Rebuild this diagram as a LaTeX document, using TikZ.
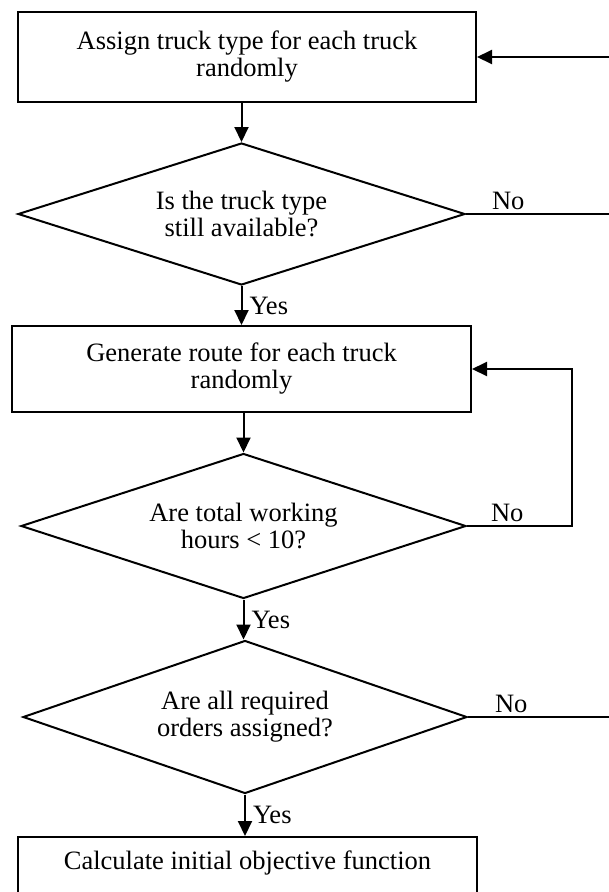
\documentclass[tikz,border=0pt]{standalone}
\usepackage{fontspec}
\setmainfont{Liberation Serif}
\usetikzlibrary{shapes.geometric,arrows.meta}

\begin{document}
\begin{tikzpicture}[x=1pt,y=-1pt,line width=2pt,font=\fontsize{26.5}{27}\selectfont,
	block/.style={draw,rectangle,align=center,inner sep=0pt},
	decision/.style={draw,diamond,aspect=3,align=center,inner sep=0pt},
	flow/.style={-{Triangle[length=15pt,width=14pt]}},
	lbl/.style={inner sep=3pt}]
\useasboundingbox(0,0)rectangle(609,892);
\clip(0,0)rectangle(609,892);
\node[block,minimum width=458pt,minimum height=90pt](assign)at(247,57){Assign truck type for each truck\\randomly};
\node[decision,minimum width=447pt,minimum height=142pt](avail)at(241.5,214){Is the truck type\\still available?};
\node[block,minimum width=459pt,minimum height=86pt](route)at(241.5,369){Generate route for each truck\\randomly};
\node[decision,minimum width=445pt,minimum height=145pt](hours)at(243.5,526){Are total working\\hours < 10?};
\node[decision,minimum width=444pt,minimum height=153pt](orders)at(245,717){Are all required\\orders assigned?};
\node[block,minimum width=459pt,anchor=north,inner ysep=9pt,text height=23pt,text depth=40pt](calc)at(247.5,836){Calculate initial objective function};
\coordinate(edge)at(620,0);
\coordinate(loop)at(572,0);
% main line
\draw[flow](avail.north|-assign.south)to(avail.north);
\draw[flow](avail.south)to node[right,inner sep=7pt]{Yes}(avail.south|-route.north);
\draw[flow](hours.north|-route.south)to(hours.north);
\draw[flow](hours.south)to node[right,inner sep=7pt]{Yes}(hours.south|-orders.north);
\draw[flow](orders.south)to node[right,inner sep=7pt]{Yes}(orders.south|-calc.north);
% loops back
\draw(avail.east)--++(22,0)node[above right,lbl]{No}--(avail.east-|edge);
\draw[flow](hours.east)--++(20,0)node[above right,lbl]{No}--(hours.east-|loop)|-(route.east);
\draw[flow](orders.east)--++(23,0)node[above right,lbl]{No}--(orders.east-|edge)|-(assign.east);
\end{tikzpicture}
\end{document}
